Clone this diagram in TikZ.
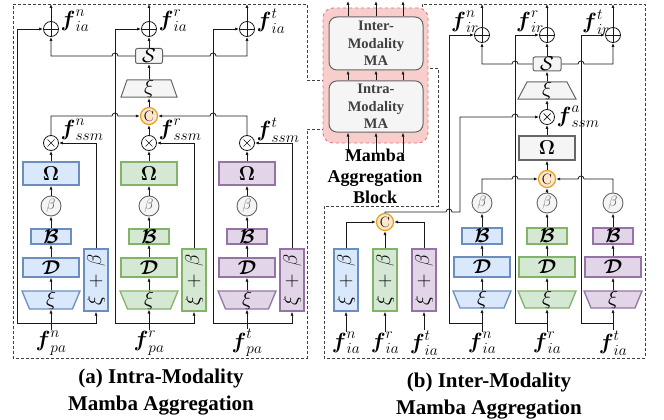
\RequirePackage{fix-cm}
\documentclass[tikz,border=0pt]{standalone}
\usepackage{amsmath,amssymb}
\usepackage{fontspec}
\newfontfamily\capfont{Liberation Serif}
\usetikzlibrary{arrows.meta,shapes.geometric}

\definecolor{bfill}{HTML}{DAE8FC}\definecolor{bdraw}{HTML}{6C8EBF}
\definecolor{gfill}{HTML}{D5E8D4}\definecolor{gdraw}{HTML}{82B366}
\definecolor{pfill}{HTML}{E1D5E7}\definecolor{pdraw}{HTML}{9673A6}
\definecolor{nfill}{HTML}{F5F5F5}\definecolor{ndraw}{HTML}{666666}
\definecolor{cfill}{HTML}{FFE6CC}\definecolor{cdraw}{HTML}{E6A117}
\definecolor{rfill}{HTML}{F8CECC}\definecolor{rdraw}{HTML}{E07A76}

% trapezoid outline: centre x, top y, bottom y, top half-width, bottom half-width, style
\newcommand\trapshape[6]{\path[#6] (#1-#4,#2) -- (#1+#4,#2) -- (#1+#5,#3) -- (#1-#5,#3) -- cycle;}

\tikzset{
  wire/.style={line width=0.8pt, draw=black!90},
  arr/.style={wire, -{Latex[length=4pt,width=3.2pt]}},
  rarr/.style={wire, {Latex[length=4pt,width=3.2pt]}-},
  border/.style={line width=0.9pt, draw=black!75, dash pattern=on 3pt off 2pt},
  blk/.style={rectangle, line width=1.3pt, inner sep=0pt, font=\fontsize{20}{20}\selectfont},
  trapbody/.style={rectangle, inner sep=0pt, font=\fontsize{21}{21}\selectfont},
  graybox/.style={blk, fill=nfill, draw=ndraw, line width=1pt},
  lbl/.style={inner sep=0.5pt, font=\fontsize{22}{24}\selectfont},
  bet/.style={circle, draw=ndraw, fill=nfill, minimum size=20pt, inner sep=0pt,
    line width=0.9pt, text=black!65, font=\fontsize{15}{15}\selectfont},
  catn/.style={circle, draw=cdraw, fill=cfill, minimum size=17pt, inner sep=0pt,
    line width=1.2pt, font=\fontsize{15}{15}\selectfont},
  oplus/.style={circle, draw=black!90, fill=white, minimum size=15pt, inner sep=0pt, line width=0.8pt,
    path picture={\draw[line width=0.8pt] (path picture bounding box.north) -- (path picture bounding box.south)
      (path picture bounding box.west) -- (path picture bounding box.east);}},
  omul/.style={circle, draw=black!90, fill=white, minimum size=15pt, inner sep=0pt, line width=0.8pt,
    path picture={\draw[line width=0.7pt]
      ([shift={(-3.5pt,-3.5pt)}]path picture bounding box.center) -- ([shift={(3.5pt,3.5pt)}]path picture bounding box.center)
      ([shift={(-3.5pt,3.5pt)}]path picture bounding box.center) -- ([shift={(3.5pt,-3.5pt)}]path picture bounding box.center);}},
  mablk/.style={rectangle, rounded corners=8pt, fill=nfill, draw=ndraw, line width=1pt,
    align=center, text=black!75, font=\capfont\bfseries\fontsize{14.5}{17.5}\selectfont},
  captext/.style={align=center, font=\capfont\bfseries\fontsize{21}{27}\selectfont},
}

\begin{document}
\begin{tikzpicture}[x=1pt,y=-1pt]
\useasboundingbox (0,0) rectangle (664,420);

% ---------- dashed panel frames ----------
\draw[border] (345,80) -- (307,80) -- (307,4) -- (13,4) -- (13,358) -- (307,358) -- (307,129) -- (345,129);
\draw[border] (410,68) -- (438,68) -- (438,206) -- (324,206) -- (324,358) -- (645,358) -- (645,4) -- (422,4) -- (422,30);

% ---------- Mamba aggregation block ----------
\node[rectangle, rounded corners=10pt, fill=rfill, draw=rdraw, dashed, line width=0.9pt,
      minimum width=105pt, minimum height=135pt] (mab) at (375.5,75.5) {};
\node[mablk, minimum width=94pt, minimum height=53pt] (inter) at (376,43.5) {Inter-\\Modality\\MA};
\node[mablk, minimum width=94pt, minimum height=51pt] (intra) at (376,106.5) {Intra-\\Modality\\MA};
\foreach \i/\X in {1/348,2/376,3/403}{
  \coordinate (ein\i) at (\X,153);
  \coordinate (eout\i) at (\X,1);
  \draw[arr] (ein\i) -- (ein\i |- intra.south);
  \draw[arr] (ein\i |- intra.north) -- (ein\i |- inter.south);
  \draw[arr] (ein\i |- inter.north) -- (eout\i);
}
\node[align=center, font=\capfont\bfseries\fontsize{18}{21}\selectfont] (mabt) at (375,176) {Mamba\\Aggregation\\Block};

% ---------- (a) intra-modality branches ----------
\foreach \k/\MX/\SX/\RX/\fc/\dc in {n/51/96/17/bfill/bdraw, r/149/194/115/gfill/gdraw, t/247/292/213/pfill/pdraw}{
  \node[oplus] (pa\k) at (\MX,29) {};
  \node[lbl, anchor=west] (la\k) at (\MX+9,21) {$\boldsymbol{f}^{\k}_{ia}$};
  \node[omul] (ma\k) at (\MX,143) {};
  \node[lbl, anchor=west] (lsa\k) at (\MX+9,130) {$\boldsymbol{f}^{\k}_{ssm}$};
  \node[blk, fill=\fc, draw=\dc, minimum width=56pt, minimum height=23pt] (wa\k) at (\MX,173.5) {$\boldsymbol{\Omega}$};
  \node[bet] (ba\k) at (\MX,206) {$\beta$};
  \node[blk, fill=\fc, draw=\dc, minimum width=40pt, minimum height=15pt] (Ba\k) at (\MX,236.5) {$\boldsymbol{\mathcal{B}}$};
  \node[blk, fill=\fc, draw=\dc, minimum width=56pt, minimum height=19pt] (Da\k) at (\MX,267.5) {$\boldsymbol{\mathcal{D}}$};
  \trapshape{\MX}{291}{309}{29}{21.5}{fill=\fc, draw=\dc, line width=1.3pt}
  \node[trapbody, minimum width=58pt, minimum height=18pt] (xa\k) at (\MX,300) {$\xi$};
  \node[blk, fill=\fc, draw=\dc, minimum width=24pt, minimum height=62pt, font=\fontsize{20}{20}\selectfont]
       (sa\k) at (\SX,280) {\rotatebox{90}{$\xi\,+\,\beta$}};
  \node[lbl] (ia\k) at (\MX,343) {$\boldsymbol{f}^{\k}_{pa}$};
  \coordinate (ja\k) at (\MX,323);
  \coordinate (ka\k) at (\RX,323);
  \coordinate (ua\k) at (\MX,4);
  \draw[arr] (ia\k.north) -- (xa\k.south);
  \draw[arr] (xa\k.north) -- (Da\k.south);
  \draw[arr] (Da\k.north) -- (Ba\k.south);
  \draw[arr] (Ba\k.north) -- (ba\k.south);
  \draw[arr] (ba\k.north) -- (wa\k.south);
  \draw[arr] (wa\k.north) -- (ma\k.south);
  \draw[arr] (ja\k) -| (sa\k.south);
  \draw[arr] (ja\k) -- (ka\k) |- (pa\k.west);
  \draw[arr] (sa\k.north) |- (ma\k.east);
  \draw[arr] (pa\k.north) -- (ua\k);
}
\node[catn] (cA) at (149,116) {C};
\trapshape{149}{80}{97}{22}{28}{fill=nfill, draw=ndraw, line width=1pt}
\node[trapbody, minimum width=56pt, minimum height=17pt] (xA) at (149,88.5) {$\xi$};
\node[graybox, rounded corners=2pt, minimum width=27pt, minimum height=15pt] (sA) at (149,56) {$\mathcal{S}$};
\draw[arr] (mar.north) -- (cA.south);
\draw[arr] (man.north) |- ([xshift=-3pt]kar |- cA.west) arc(180:360:3) -- (cA.west);
\draw[rarr] (cA.east) -- ([xshift=-3pt]kat |- cA.east) arc(180:360:3) -| (mat.north);
\draw[arr] (cA.north) -- (xA.south);
\draw[arr] (xA.north) -- (sA.south);
\draw[arr] (sA.north) -- (par.south);
\draw[rarr] (pan.south) |- ([xshift=-3pt]kar |- sA.west) arc(180:360:3) -- (sA.west);
\draw[arr] (sA.east) -- ([xshift=-3pt]kat |- sA.east) arc(180:360:3) -| (pat.south);

% ---------- (b) inter-modality: gathering branch ----------
\foreach \k/\X/\fc/\dc in {n/346/bfill/bdraw, r/385/gfill/gdraw, t/424/pfill/pdraw}{
  \node[blk, fill=\fc, draw=\dc, minimum width=24pt, minimum height=62pt, font=\fontsize{20}{20}\selectfont]
       (sb\k) at (\X,280) {\rotatebox{90}{$\xi\,+\,\beta$}};
  \node[lbl] (ib\k) at (\X,343) {$\boldsymbol{f}^{\k}_{ia}$};
  \draw[arr] (ib\k.north) -- (sb\k.south);
}
\node[catn] (cB) at (385,222) {C};
\draw[arr] (sbn.north) |- (cB.west);
\draw[arr] (sbr.north) -- (cB.south);
\draw[arr] (sbt.north) |- (cB.east);

% ---------- (b) inter-modality: per-modality branches ----------
\foreach \k/\MX/\RX/\fc/\dc in {n/482/449/bfill/bdraw, r/547/515/gfill/gdraw, t/613/581/pfill/pdraw}{
  \node[oplus] (pb\k) at (\MX,35) {};
  \node[lbl] (lb\k) at (\MX-17,22) {$\boldsymbol{f}^{\k}_{ir}$};
  \node[bet] (bb\k) at (\MX,203) {$\beta$};
  \node[blk, fill=\fc, draw=\dc, minimum width=40pt, minimum height=16pt] (Bb\k) at (\MX,236) {$\boldsymbol{\mathcal{B}}$};
  \node[blk, fill=\fc, draw=\dc, minimum width=56pt, minimum height=20pt] (Db\k) at (\MX,267) {$\boldsymbol{\mathcal{D}}$};
  \trapshape{\MX}{291}{308}{29}{22}{fill=\fc, draw=\dc, line width=1.3pt}
  \node[trapbody, minimum width=58pt, minimum height=17pt] (xb\k) at (\MX,299.5) {$\xi$};
  \node[lbl] (qb\k) at (\MX,343) {$\boldsymbol{f}^{\k}_{ia}$};
  \coordinate (jb\k) at (\MX,323);
  \coordinate (kb\k) at (\RX,323);
  \coordinate (ub\k) at (\MX,4);
  \draw[arr] (qb\k.north) -- (xb\k.south);
  \draw[arr] (xb\k.north) -- (Db\k.south);
  \draw[arr] (Db\k.north) -- (Bb\k.south);
  \draw[arr] (Bb\k.north) -- (bb\k.south);
  \draw[arr] (jb\k) -- (kb\k) |- (pb\k.west);
  \draw[arr] (pb\k.north) -- (ub\k);
}
\node[catn] (cC) at (547,179) {C};
\node[graybox, line width=1.3pt, minimum width=56pt, minimum height=24pt] (wB) at (547,148) {$\boldsymbol{\Omega}$};
\node[omul] (mB) at (547,117) {};
\node[lbl, anchor=west] (lsB) at (556,117) {$\boldsymbol{f}^{a}_{ssm}$};
\trapshape{547}{82}{99}{20}{29}{fill=nfill, draw=ndraw, line width=1pt}
\node[trapbody, minimum width=58pt, minimum height=17pt] (xB) at (547,90.5) {$\xi$};
\node[graybox, rounded corners=2pt, minimum width=28pt, minimum height=14pt] (sB) at (547,64) {$\mathcal{S}$};
\coordinate (tB) at (460,212);
\draw[arr] (cB.north) |- ([xshift=-3pt]kbn |- tB) arc(180:360:3) -- (tB)
           |- ([xshift=-3pt]kbr |- mB.west) arc(180:360:3) -- (mB.west);
\draw[arr] (bbr.north) -- (cC.south);
\draw[arr] (bbn.north) |- ([xshift=-3pt]kbr |- cC.west) arc(180:360:3) -- (cC.west);
\draw[rarr] (cC.east) -- ([xshift=-3pt]kbt |- cC.east) arc(180:360:3) -| (bbt.north);
\draw[arr] (cC.north) -- (wB.south);
\draw[arr] (wB.north) -- (mB.south);
\draw[arr] (mB.north) -- (xB.south);
\draw[arr] (xB.north) -- (sB.south);
\draw[arr] (sB.north) -- (pbr.south);
\draw[rarr] (pbn.south) |- ([xshift=-3pt]kbr |- sB.west) arc(180:360:3) -- (sB.west);
\draw[arr] (sB.east) -- ([xshift=-3pt]kbt |- sB.east) arc(180:360:3) -| (pbt.south);

% ---------- captions ----------
\node[captext] (capa) at (161,392) {(a) Intra-Modality\\Mamba Aggregation};
\node[captext] (capb) at (489,396) {(b) Inter-Modality\\Mamba Aggregation};
\end{tikzpicture}
\end{document}
